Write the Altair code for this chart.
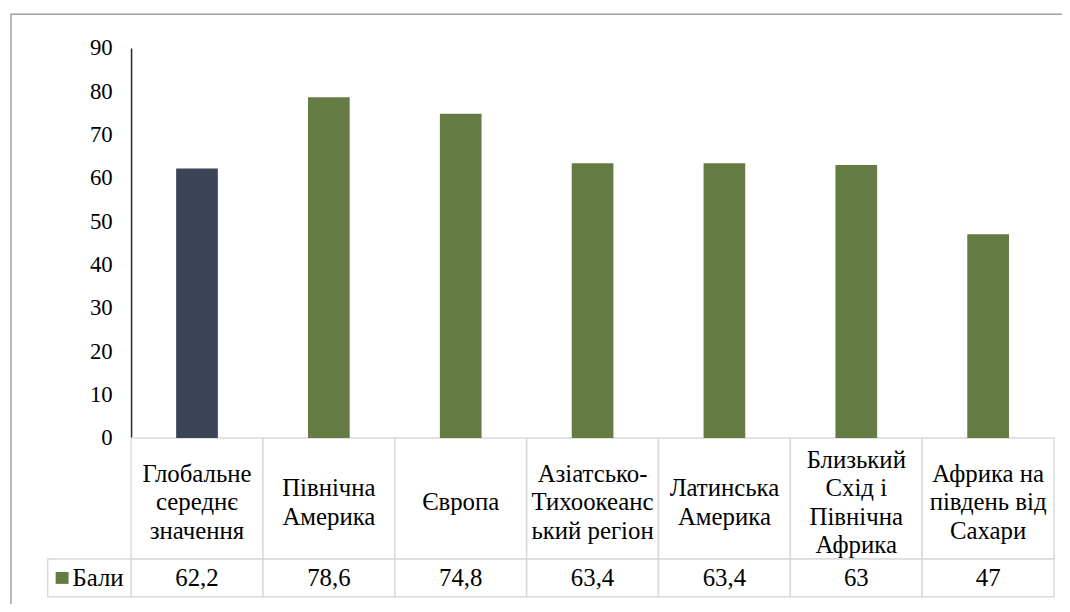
import altair as alt
import pandas as pd

categories = [
    "Глобальне\nсереднє\nзначення",
    "Північна\nАмерика",
    "Європа",
    "Азіатсько-\nТихоокеанс\nький регіон",
    "Латинська\nАмерика",
    "Близький\nСхід і\nПівнічна\nАфрика",
    "Африка на\nпівдень від\nСахари",
]
values = [62.2, 78.6, 74.8, 63.4, 63.4, 63, 47]
series_name = "Бали"
y_ticks = [0, 10, 20, 30, 40, 50, 60, 70, 80, 90]

NAVY = "#3B4357"
GREEN = "#647C43"
GRID = "#D9D9D9"
FONT = "Liberation Serif"

df = pd.DataFrame({"cat": categories, "val": values})
leg = pd.DataFrame({"name": [series_name]})

W, H = 930, 393
LH = 28.5
FS = 25
xenc = alt.X("cat:N", sort=categories,
             scale=alt.Scale(paddingInner=0, paddingOuter=0), axis=None)

base = alt.Chart(df)

border = alt.Chart(leg).mark_rect(fill=None, stroke="#A0A0A0", strokeWidth=1.5).encode(
    x=alt.value(-121), x2=alt.value(1000), y=alt.value(-34), y2=alt.value(700)
)

bars = base.mark_bar(size=42).encode(
    x=xenc,
    y=alt.Y("val:Q", scale=alt.Scale(domain=[0, 90], nice=False),
            axis=alt.Axis(values=y_ticks, ticks=False, grid=False, title=None,
                          labelFont=FONT, labelFontSize=23, labelColor="#000000",
                          labelPadding=19, domainColor="#262626", domainWidth=1.5)),
    color=alt.condition(alt.datum.cat == categories[0], alt.value(NAVY), alt.value(GREEN)),
)

cat_cells = base.mark_rect(fill="white", stroke=GRID, strokeWidth=1.5).encode(
    x=xenc, y=alt.value(H), y2=alt.value(H + 122)
)
val_cells = base.mark_rect(fill="white", stroke=GRID, strokeWidth=1.5).encode(
    x=xenc, y=alt.value(H + 122), y2=alt.value(H + 160)
)

cat_text = base.transform_calculate(
    lines="split(datum.cat, '\\n')", n="length(split(datum.cat, '\\n'))"
).transform_flatten(["lines"], as_=["line"]).transform_window(
    rn="row_number()", groupby=["cat"]
).transform_calculate(
    off="datum.rn - 1 - (datum.n - 1) / 2"
).mark_text(
    font=FONT, fontSize=FS, baseline="middle", align="center", color="#000000"
).encode(
    x=xenc,
    y=alt.Y("off:Q", scale=alt.Scale(domain=[0, 1], range=[H + 65, H + 65 + LH]), axis=None),
    text="line:N",
)

val_text = base.transform_calculate(lbl="replace(toString(datum.val), '.', ',')").mark_text(
    font=FONT, fontSize=FS, baseline="middle", align="center", color="#000000"
).encode(x=xenc, y=alt.value(H + 141), text="lbl:N")

leg_cell = alt.Chart(leg).mark_rect(fill="white", stroke=GRID, strokeWidth=1.5).encode(
    x=alt.value(-84), x2=alt.value(0), y=alt.value(H + 122), y2=alt.value(H + 160)
)
leg_sq = alt.Chart(leg).mark_rect(fill=GREEN).encode(
    x=alt.value(-76), x2=alt.value(-63), y=alt.value(H + 135), y2=alt.value(H + 147)
)
leg_txt = alt.Chart(leg).mark_text(
    font=FONT, fontSize=FS, baseline="middle", align="left", color="#000000"
).encode(x=alt.value(-59), y=alt.value(H + 141), text="name:N")

chart = alt.layer(
    border, cat_cells, val_cells, bars, cat_text, val_text, leg_cell, leg_sq, leg_txt
).resolve_scale(y="independent").properties(
    width=W, height=H,
    background="white",
    autosize=alt.AutoSizeParams(type="none"),
    padding={"left": 124, "top": 38, "right": 8, "bottom": 165},
).configure_view(stroke=None)

chart.save("out.html", embed_options={"renderer": "svg", "actions": False})
